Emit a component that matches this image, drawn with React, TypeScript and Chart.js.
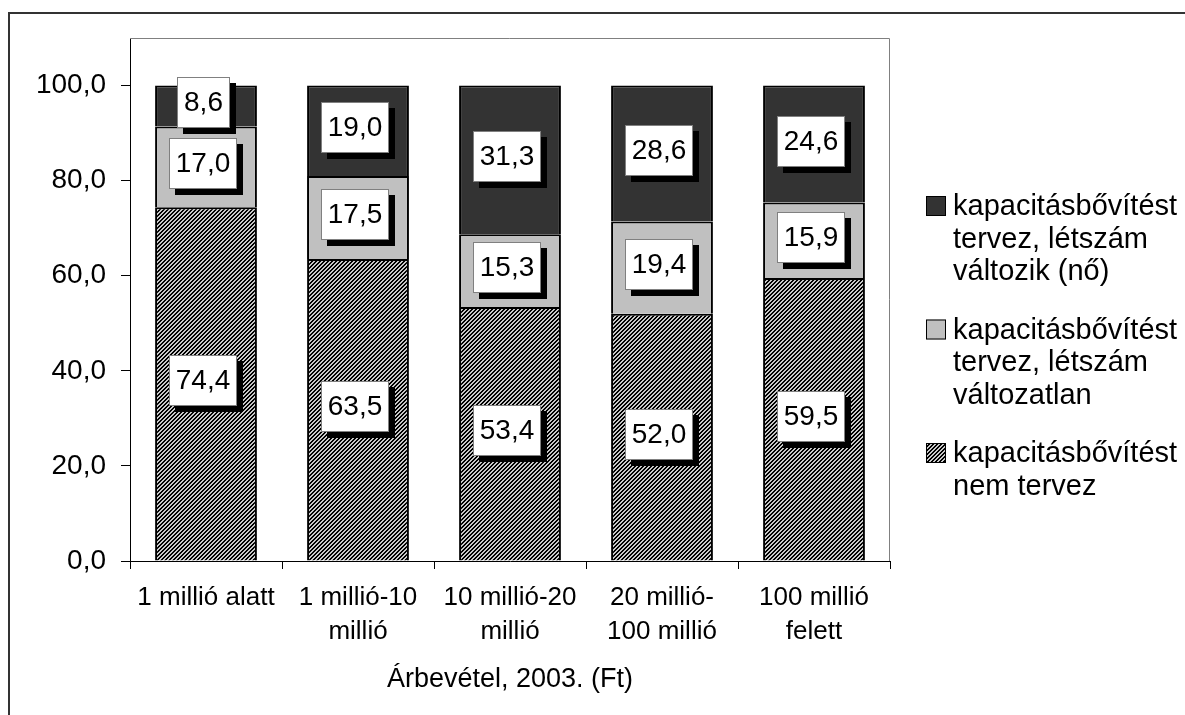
import React, { useEffect, useRef } from "react";
import { Chart, registerables } from "chart.js";

Chart.register(...registerables);

const categories: string[][] = [
  ["1 millió alatt"],
  ["1 millió-10", "millió"],
  ["10 millió-20", "millió"],
  ["20 millió-", "100 millió"],
  ["100 millió", "felett"],
];
const nemTervez = [74.4, 63.5, 53.4, 52.0, 59.5];
const valtozatlan = [17.0, 17.5, 15.3, 19.4, 15.9];
const letszamNo = [8.6, 19.0, 31.3, 28.6, 24.6];
const yTicks = [0, 20, 40, 60, 80, 100];
const xTitle = "Árbevétel, 2003. (Ft)";
const legendDark = ["kapacitásbővítést", "tervez, létszám", "változik (nő)"];
const legendLight = ["kapacitásbővítést", "tervez, létszám", "változatlan"];
const legendHatch = ["kapacitásbővítést", "nem tervez"];

const FONT = "'Liberation Sans', Arial, sans-serif";
const fmt = (v: number) => v.toFixed(1).replace(".", ",");

function makeHatch(ctx: CanvasRenderingContext2D): CanvasPattern | string {
  const c = document.createElement("canvas");
  c.width = 4;
  c.height = 4;
  const g = c.getContext("2d");
  if (!g) return "#666";
  const img = g.createImageData(4, 4);
  for (let y = 0; y < 4; y++) {
    for (let x = 0; x < 4; x++) {
      const m = (x + y) % 4;
      const on = m === 0 || m === 1;
      const v = on ? 0 : 200;
      const i = (y * 4 + x) * 4;
      img.data[i] = v;
      img.data[i + 1] = v;
      img.data[i + 2] = v;
      img.data[i + 3] = 255;
    }
  }
  g.putImageData(img, 0, 0);
  return ctx.createPattern(c, "repeat") || "#666";
}

export default function App() {
  const ref = useRef<HTMLCanvasElement>(null);

  useEffect(() => {
    const canvas = ref.current;
    if (!canvas) return;
    const ctx = canvas.getContext("2d");
    if (!ctx) return;
    const hatch = makeHatch(ctx);
    const DARK = "#333333";
    const LIGHT = "#c0c0c0";

    const labelPlugin = {
      id: "boxLabels",
      afterDatasetsDraw(chart: any) {
        const c = chart.ctx;
        c.save();
        c.font = `28px ${FONT}`;
        c.textAlign = "center";
        c.textBaseline = "middle";
        chart.data.datasets.forEach((ds: any, di: number) => {
          const meta = chart.getDatasetMeta(di);
          meta.data.forEach((el: any, i: number) => {
            const txt = fmt(ds.data[i]);
            const tw = c.measureText(txt).width;
            const w = Math.round(tw + 14);
            const h = 51;
            const sh = 6;
            const cx = el.x;
            const cy = (el.y + el.base) / 2;
            const bx = Math.round(cx - w / 2 - sh / 2);
            const by = Math.round(cy - h / 2 - sh / 2);
            c.fillStyle = "#000";
            c.fillRect(bx + sh, by + sh, w, h);
            c.fillStyle = "#fff";
            c.fillRect(bx, by, w, h);
            c.strokeStyle = "#808080";
            c.lineWidth = 1;
            c.strokeRect(bx + 0.5, by + 0.5, w - 1, h - 1);
            c.fillStyle = "#000";
            c.fillText(txt, bx + w / 2, by + h / 2 + 1);
          });
        });
        c.restore();
      },
    };

    const framePlugin = {
      id: "plotFrame",
      beforeDatasetsDraw(chart: any) {
        const { left, right, top, bottom } = chart.chartArea;
        const c = chart.ctx;
        c.save();
        c.strokeStyle = "#808080";
        c.lineWidth = 1;
        c.beginPath();
        c.moveTo(left, top + 0.5);
        c.lineTo(right - 0.5, top + 0.5);
        c.lineTo(right - 0.5, bottom);
        c.stroke();
        c.restore();
      },
    };

    const legendPlugin = {
      id: "customLegend",
      afterDraw(chart: any) {
        const c = chart.ctx;
        const { right, top } = chart.chartArea;
        const items = [
          { lines: legendDark, fill: DARK },
          { lines: legendLight, fill: LIGHT },
          { lines: legendHatch, fill: hatch },
        ];
        const lineH = 32.5;
        const gap = 26;
        const sx = right + 36;
        let y = top + 168;
        c.save();
        c.font = `29px ${FONT}`;
        c.textAlign = "left";
        c.textBaseline = "middle";
        items.forEach((it) => {
          c.fillStyle = it.fill as any;
          c.fillRect(sx, y - 10, 20, 20);
          c.strokeStyle = "#000";
          c.lineWidth = 1;
          c.strokeRect(sx + 0.5, y - 9.5, 19, 19);
          c.fillStyle = "#000";
          it.lines.forEach((ln, li) => {
            c.fillText(ln, sx + 27, y + li * lineH + 1);
          });
          y += it.lines.length * lineH + gap;
        });
        c.restore();
      },
    };

    const chart = new Chart(ctx, {
      type: "bar",
      data: {
        labels: categories,
        datasets: [
          {
            label: legendHatch.join(" "),
            data: nemTervez,
            backgroundColor: hatch as any,
            borderColor: "#000",
            borderWidth: 2,
          },
          {
            label: legendLight.join(" "),
            data: valtozatlan,
            backgroundColor: LIGHT,
            borderColor: "#000",
            borderWidth: 2,
          },
          {
            label: legendDark.join(" "),
            data: letszamNo,
            backgroundColor: DARK,
            borderColor: "#000",
            borderWidth: 2,
          },
        ],
      },
      options: {
        responsive: false,
        animation: false,
        devicePixelRatio: 1,
        layout: { padding: { left: 0, top: 38, right: 295, bottom: 0 } },
        datasets: { bar: { categoryPercentage: 1, barPercentage: 0.67 } },
        plugins: {
          legend: { display: false },
          tooltip: { enabled: false },
          title: { display: false },
        },
        scales: {
          x: {
            stacked: true,
            afterFit: (s: any) => {
              s.height = 154;
            },
            grid: {
              drawOnChartArea: false,
              drawTicks: true,
              tickLength: 8,
              color: "#000",
              offset: true,
            },
            border: { display: true, color: "#000", width: 1 },
            ticks: {
              color: "#000",
              padding: 12,
              maxRotation: 0,
              autoSkip: false,
              font: { family: FONT, size: 26, lineHeight: 1.3 },
            },
            title: {
              display: true,
              text: xTitle,
              color: "#000",
              font: { family: FONT, size: 27 },
              padding: { top: 0, bottom: 19 },
            },
          },
          y: {
            stacked: true,
            min: 0,
            max: 110,
            afterFit: (s: any) => {
              s.width = 130;
            },
            afterBuildTicks: (axis: any) => {
              axis.ticks = yTicks.map((v) => ({ value: v }));
            },
            grid: {
              drawOnChartArea: false,
              drawTicks: true,
              tickLength: 9,
              color: "#000",
            },
            border: { display: true, color: "#000", width: 1 },
            ticks: {
              color: "#000",
              padding: 15,
              font: { family: FONT, size: 28 },
              callback: (v: any) => fmt(Number(v)),
            },
          },
        },
      },
      plugins: [framePlugin, labelPlugin, legendPlugin],
    });

    return () => chart.destroy();
  }, []);

  return (
    <div
      style={{
        position: "fixed",
        left: 0,
        top: 0,
        width: 1185,
        height: 715,
        overflow: "hidden",
        background: "#fff",
      }}
    >
      <div
        style={{
          position: "absolute",
          left: 8,
          top: 12,
          width: 1300,
          height: 800,
          border: "2px solid #333",
          boxSizing: "border-box",
        }}
      />
      <canvas
        ref={ref}
        width={1185}
        height={715}
        style={{ position: "absolute", left: 0, top: 0, display: "block" }}
      />
    </div>
  );
}
